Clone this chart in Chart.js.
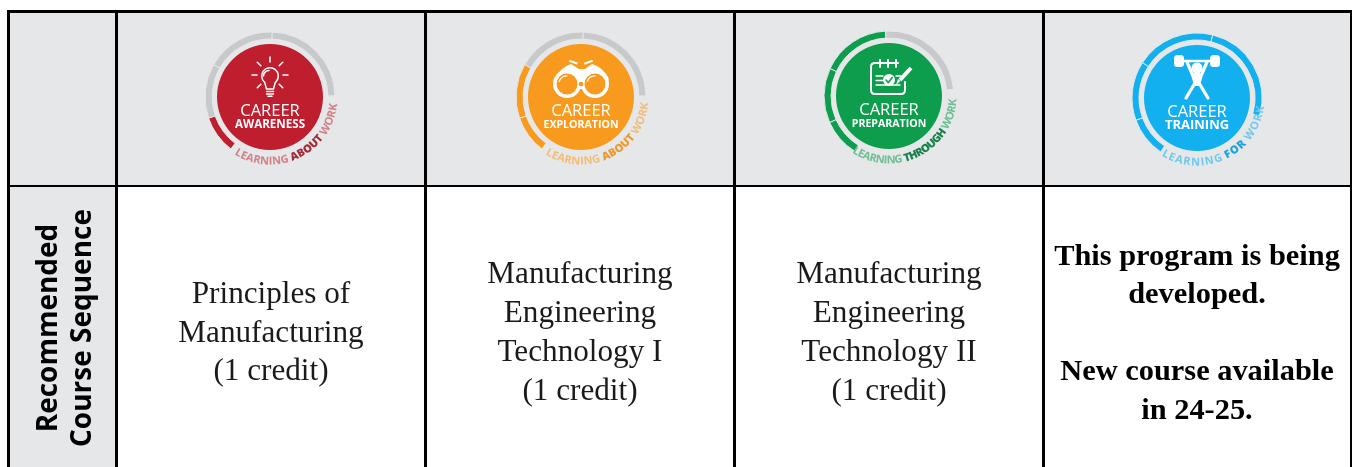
<!DOCTYPE html>
<html><head><meta charset="utf-8">
<script src="https://cdn.jsdelivr.net/npm/chart.js@4"></script>
<style>
html,body{margin:0;padding:0;background:#fff;width:1352px;height:467px;overflow:hidden}
#t{position:absolute;left:0;top:0;width:1352px;height:467px}
.r{position:absolute;background:#000}
.c{position:absolute;background:#e6e7e8}
.txt{position:absolute;top:187px;height:280px;display:flex;align-items:center;justify-content:center;text-align:center;font-family:"Liberation Serif",serif;color:#1a1a1a;font-size:31.2px;line-height:38.8px;white-space:pre-line;transform:translateY(4.5px);font-kerning:normal}
.b{font-weight:bold;font-size:30.4px;color:#000;line-height:38.6px;font-variant-ligatures:common-ligatures}
.rot{position:absolute;width:280px;text-align:center;font-family:"Open Sans",sans-serif;font-weight:700;font-size:28px;line-height:34px;color:#000;white-space:nowrap;transform-origin:0 0;transform:rotate(-90deg)}
canvas.bd{position:absolute;width:160px;height:160px;filter:blur(0.5px)}
#t{filter:blur(0.2px)}
</style></head><body>
<div id="t"></div>
<script>
const rowTitle = ["Recommended", "Course Sequence"];
const stages = ["CAREER AWARENESS", "CAREER EXPLORATION", "CAREER PREPARATION", "CAREER TRAINING"];
const stageSecond = ["AWARENESS", "EXPLORATION", "PREPARATION", "TRAINING"];
const learningWord = ["ABOUT", "ABOUT", "THROUGH", "FOR"];
const courses = [
  "Principles of\nManufacturing\n(1 credit)",
  "Manufacturing\nEngineering\nTechnology I\n(1 credit)",
  "Manufacturing\nEngineering\nTechnology II\n(1 credit)",
  "This program is being\ndeveloped.\n\nNew course available\nin 24-25."
];
const ringA = [34, 49, 62, 87, 128];
const ringB = [34, 49, 62, 87, 128];
const ringC = [34, 49, 62, 87, 128];
const ringD = [36, 53, 71, 92, 108];
const rings = [ringA, ringB, ringC, ringD];
const activeSegments = [1, 2, 3, 4];
const startAngles = [217, 217, 212, 214];
const colors = ["#be1e2d", "#f89a1e", "#0e9d4c", "#12b0ef"];
const tints = ["#d27f87", "#f2bd78", "#6fbf92", "#70c9ec"];
const boldTints = ["#a02a36", "#ea9a2e", "#17824a", "#1aa5dc"];
const wordSpans = [[212,96],[212,95],[213,93],[212,97]];
const centers = [[270,97],[581,97],[889,96],[1197,98]];

const t=document.getElementById('t');
function add(cls,l,tp,w,h,html){const d=document.createElement('div');d.className=cls;d.style.cssText=`left:${l}px;top:${tp}px;width:${w}px;height:${h}px`;if(html!==undefined)d.textContent=html;t.appendChild(d);return d;}
add('c',8,11,1343,175); add('c',8,186,108,281);
add('r',7,10,1345,2.6); add('r',7,184.8,1345,2.6);
add('r',7,10,3,457);
[115,424,733,1042].forEach(x=>add('r',x,10,2.6,457));
add('r',1349.5,10,2.5,457);
courses.forEach((s,i)=>{const l=[117,426,735,1044][i];const d=document.createElement('div');d.className='txt'+(i===3?' b':'');d.style.left=l+'px';d.style.width=(i===3?306:308)+'px';d.textContent=s;t.appendChild(d);});
rowTitle.forEach((s,i)=>{const d=document.createElement('div');d.className='rot';d.textContent=s;d.style.left=[29,63][i]+'px';d.style.top='468px';t.appendChild(d);});

const R=65;
function icon(ctx,i,col){
  ctx.save();ctx.strokeStyle='#fff';ctx.fillStyle='#fff';ctx.lineCap='round';ctx.lineJoin='round';
  const L=(a,b,c,d)=>{ctx.beginPath();ctx.moveTo(a,b);ctx.lineTo(c,d);ctx.stroke();};
  if(i===0){
    ctx.lineWidth=1.5;
    ctx.beginPath();ctx.arc(0,-21,8.3,Math.PI*0.72,Math.PI*0.28+Math.PI*2,false);ctx.lineTo(3.5,-8);ctx.lineTo(-3.5,-8);ctx.closePath();ctx.stroke();
    ctx.beginPath();ctx.arc(-1,-21,5.5,Math.PI,Math.PI*1.5);ctx.stroke();
    L(-3.5,-5.5,3.5,-5.5);L(-3.5,-3,3.5,-3);L(-2,-0.8,2,-0.8);
    [0,45,90,-45,-90,135,-135].forEach(a=>{const s=Math.sin(a*Math.PI/180),c=Math.cos(a*Math.PI/180);L(s*13,-22-c*13,s*18,-22-c*18);});
  } else if(i===1){
    ctx.beginPath();ctx.moveTo(-27,-18);ctx.quadraticCurveTo(-20,-30,-10,-33);ctx.lineTo(-2,-28);ctx.lineTo(4,-28);ctx.lineTo(11,-33);ctx.quadraticCurveTo(22,-30,28,-18);ctx.lineTo(12,-8);ctx.lineTo(-12,-8);ctx.closePath();ctx.fill();
    ctx.lineWidth=2;L(-11,-36,-4,-33.5);L(11,-36,4,-33.5);
    [[-14,-13],[14,-13]].forEach(p=>{ctx.beginPath();ctx.arc(p[0],p[1],14,0,Math.PI*2);ctx.fill();});
    ctx.fillStyle=col;
    [[-14,-13],[14,-13]].forEach(p=>{ctx.beginPath();ctx.arc(p[0],p[1],10.5,0,Math.PI*2);ctx.fill();});
    ctx.beginPath();ctx.arc(0,-13,2.3,0,Math.PI*2);ctx.fill();
    [[-14,-13],[14,-13]].forEach(p=>{ctx.beginPath();ctx.arc(p[0],p[1],8.2,Math.PI*1.1,Math.PI*1.5);ctx.lineWidth=1.2;ctx.stroke();});
  } else if(i===2){
    ctx.lineWidth=2;
    ctx.beginPath();ctx.moveTo(9,-33);ctx.lineTo(-14,-33);ctx.quadraticCurveTo(-18,-33,-18,-29);ctx.lineTo(-18,-6);ctx.quadraticCurveTo(-18,-2,-14,-2);ctx.lineTo(12,-2);ctx.quadraticCurveTo(16,-2,16,-6);ctx.lineTo(16,-14);ctx.stroke();
    L(-9,-36,-9,-29);L(-1,-36,-1,-29);L(7,-36,7,-29);
    ctx.lineWidth=1.3;L(-13,-20,-6,-20);L(-13,-11,11,-11);L(7,-20,12,-20);L(-13,-15.5,-6,-15.5);
    ctx.beginPath();ctx.arc(0,-16,6,0,Math.PI*2);ctx.fill();
    ctx.strokeStyle=col;ctx.lineWidth=1.6;L(-3,-16,-0.7,-13.5);L(-0.7,-13.5,3.2,-18.5);
    ctx.strokeStyle='#fff';ctx.lineWidth=4;ctx.lineCap='butt';L(11,-16,22,-28);ctx.lineCap='round';
    ctx.beginPath();ctx.moveTo(11.5,-15);ctx.lineTo(7,-11);ctx.lineTo(9,-17);ctx.closePath();ctx.fill();
  } else {
    const rr=(x,y,w,h,r)=>{ctx.beginPath();ctx.roundRect(x,y,w,h,r);ctx.fill();};
    rr(-23,-43,10,12,3.5);rr(13,-43,10,12,3.5);
    ctx.lineWidth=2.5;L(-16,-37,16,-37);
    ctx.beginPath();ctx.arc(0,-30,5.5,0,Math.PI*2);ctx.fill();
    ctx.lineCap='round';ctx.lineWidth=3.2;
    ctx.beginPath();ctx.moveTo(-10,-36);ctx.lineTo(-4,-22);ctx.lineTo(-2,-15);ctx.lineTo(-11,0);ctx.stroke();
    ctx.beginPath();ctx.moveTo(10,-36);ctx.lineTo(4,-22);ctx.lineTo(2,-15);ctx.lineTo(11,0);ctx.stroke();
    ctx.beginPath();ctx.moveTo(-4,-25);ctx.lineTo(4,-25);ctx.lineTo(2,-12);ctx.lineTo(-2,-12);ctx.closePath();ctx.fill();
  }
  ctx.restore();
}
function arcText(ctx,i){
  const parts=[["LEARNING ",tints[i],'700'],[learningWord[i]+" ",boldTints[i],'800'],["WORK",tints[i],'700']];
  const fs=11, r=67.5; let chars=[],tot=0;
  parts.forEach(p=>{ctx.font=`${p[2]} ${fs}px "Open Sans"`;for(const ch of p[0]){const w=ctx.measureText(ch).width;chars.push([ch,w,p[1],p[2]]);tot+=w;}});
  const [a0,a1]=wordSpans[i];const total=(a0-a1)*Math.PI/180;const k=total/tot;
  let a=a0*Math.PI/180;
  ctx.textAlign='center';ctx.textBaseline='alphabetic';
  chars.forEach(c=>{const da=c[1]*k;const m=a-da/2;ctx.save();ctx.translate(r*Math.sin(m),-r*Math.cos(m));ctx.rotate(m-Math.PI);ctx.font=`${c[3]} ${fs}px "Open Sans"`;ctx.fillStyle=c[2];ctx.fillText(c[0],0,0);ctx.restore();a-=da;});
}
const badgePlugin={id:'badge',afterDraw(ch){
  const i=ch.config.options.plugins.badge.idx,ctx=ch.ctx,cx=ch.width/2,cy=ch.height/2;
  ctx.save();ctx.translate(cx,cy);
  icon(ctx,i,colors[i]);
  ctx.fillStyle='#fff';ctx.textAlign='center';ctx.textBaseline='alphabetic';
  ctx.font='400 16.5px "Open Sans"';ctx.fillText('CAREER',0,19);
  ctx.font='700 '+[11.6,10.6,10.6,13][i]+'px "Open Sans"';ctx.fillText(stageSecond[i],0,31);
  arcText(ctx,i);
  ctx.restore();
}};
Chart.register(badgePlugin);
const BG='#e6e7e8',GREY='#c8c9cb';
stages.forEach((name,i)=>{
  const cv=document.createElement('canvas');cv.className='bd';cv.width=160;cv.height=160;
  cv.style.left=(centers[i][0]-80)+'px';cv.style.top=(centers[i][1]-80)+'px';
  document.body.appendChild(cv);
  const v=rings[i];
  const ringCols=v.map((_,k)=>k===v.length-1?'rgba(0,0,0,0)':(k<activeSegments[i]?colors[i]:GREY));
  new Chart(cv,{type:'doughnut',data:{labels:["a","b","c","d","rest"],datasets:[
    {label:name+' ring',data:v,backgroundColor:ringCols,borderColor:v.map((_,k)=>k===v.length-1?'rgba(0,0,0,0)':BG),borderWidth:1,weight:7,rotation:startAngles[i]},
    {label:'gap',data:[1],backgroundColor:['rgba(0,0,0,0)'],borderWidth:0,weight:5},
    {label:name,data:[1],backgroundColor:[colors[i]],borderWidth:0,weight:53}
  ]},options:{responsive:false,animation:false,cutout:0,radius:R,events:[],layout:{padding:0},plugins:{legend:{display:false},tooltip:{enabled:false},badge:{idx:i}}}});
});
</script>
</body></html>
